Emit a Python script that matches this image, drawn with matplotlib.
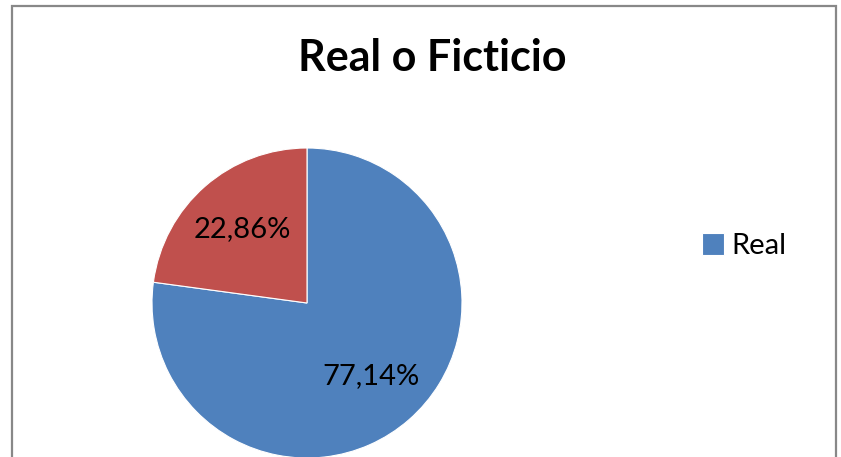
import matplotlib
matplotlib.use('Agg')
from matplotlib import pyplot as plt
from matplotlib.patches import Rectangle

plt.rcParams['font.family'] = ['Lato', 'DejaVu Sans']

categories = ['Real', 'Ficticio']
values = [77.14, 22.86]
colors = ['#4F81BD', '#C0504D']
title = 'Real o Ficticio'

W, H = 841, 457
fig = plt.figure(figsize=(W / 100, H / 100), dpi=100)

# pie axes: centre at (307, 303) px, radius 155 px
cx, cy, r = 307, 303, 155
ax = fig.add_axes([(cx - r) / W, (H - cy - r) / H, 2 * r / W, 2 * r / H])
wedges, texts, autotexts = ax.pie(
    values, colors=colors, startangle=90, counterclock=False,
    autopct=lambda p: f'{p:.2f}%'.replace('.', ','), pctdistance=0.63,
    wedgeprops=dict(edgecolor='white', linewidth=0.8),
    textprops=dict(fontsize=21, color='black'))
ax.set_xlim(-1, 1)
ax.set_ylim(-1, 1)

fig.text(432 / W, 1 - 58 / H, title, ha='center', va='center',
         fontsize=31, fontweight='bold')

fig.legend([wedges[0]], [categories[0]], loc='center left',
           bbox_to_anchor=(676 / W, 1 - 246 / H), frameon=False,
           fontsize=21, handlelength=0.75, handleheight=0.75, handletextpad=0.25)

# chart border (bottom cut off)
fig.add_artist(Rectangle((12 / W, -0.1), (836 - 12) / W, 1.1 - 6 / H,
                         transform=fig.transFigure, fill=False,
                         edgecolor='#888888', linewidth=1.6))

fig.savefig('out.png', dpi=100)
